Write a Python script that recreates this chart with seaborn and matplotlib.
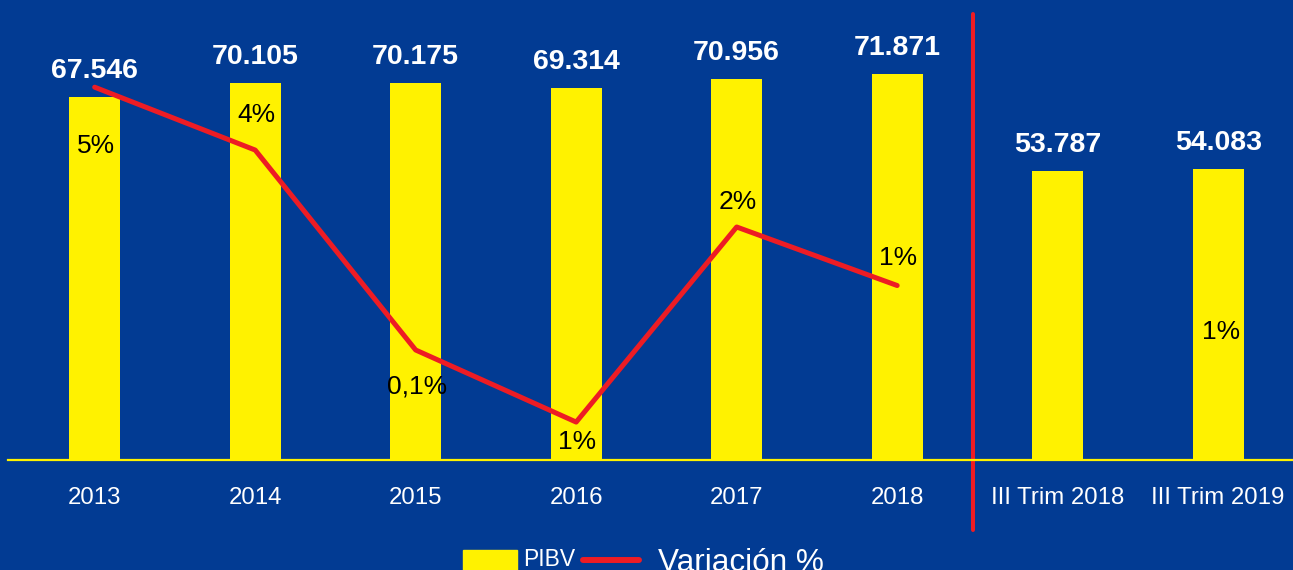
import numpy as np
import matplotlib
matplotlib.use("Agg")
import matplotlib.pyplot as plt
from matplotlib.patches import Rectangle
from matplotlib.lines import Line2D
import seaborn as sns


periodos = ["2013", "2014", "2015", "2016", "2017", "2018", "III Trim 2018", "III Trim 2019"]
pibv = [67546, 70105, 70175, 69314, 70956, 71871, 53787, 54083]
pibv_txt = ["67.546", "70.105", "70.175", "69.314", "70.956", "71.871", "53.787", "54.083"]

# variacion anual (%) - solo años completos
variacion = [4.95, 3.79, 0.10, -1.23, 2.37, 1.29]
variacion_txt = ["5%", "4%", "0,1%", "1%", "2%", "1%"]

# variacion trimestral III Trim 2019 vs III Trim 2018
var_trim = 0.55
var_trim_txt = "1%"

AZUL = "#023B93"
AMARILLO = "#FFF200"
ROJO = "#ED1C24"

sns.set_style("white")
plt.rcParams["font.family"] = ["Liberation Sans", "DejaVu Sans"]

W, H = 1293, 570
fig = plt.figure(figsize=(W / 100, H / 100), dpi=100, facecolor=AZUL)
ax = fig.add_axes([8 / W, 110 / H, 1284 / W, 440 / H])
ax.set_facecolor(AZUL)

sns.barplot(x=periodos, y=pibv, color=AMARILLO, saturation=1, width=0.317,
            edgecolor="none", linewidth=0, ax=ax)
ax.set_xlim(-0.54, 7.46)
ax.set_ylim(0, 81900)
ax.bar_label(ax.containers[0], labels=pibv_txt, padding=9.4, color="white",
             fontsize=20.5, fontweight="bold")

for s in ["top", "left", "right"]:
    ax.spines[s].set_visible(False)
ax.spines["bottom"].set_color(AMARILLO)
ax.spines["bottom"].set_linewidth(1.6)
ax.set_yticks([])
ax.set_xlabel("")
ax.set_ylabel("")
ax.tick_params(axis="x", length=0, pad=19.5, labelcolor="white", labelsize=17.3)

# linea de variacion en eje secundario
ax2 = ax.twinx()
x_var = np.arange(len(variacion))
sns.lineplot(x=x_var, y=variacion, color=ROJO, linewidth=3.6, ax=ax2)
ax2.set_ylim(-1.93, 6.19)
ax2.set_yticks([])
ax2.set_ylabel("")
for s in ax2.spines.values():
    s.set_visible(False)

desplaz = [-58.5, 35.5, -36.5, -19.5, 24.5, 27.5]
for i, (v, t) in enumerate(zip(variacion, variacion_txt)):
    ax2.annotate(t, (x_var[i], v), xytext=(1, desplaz[i]), textcoords="offset pixels",
                 ha="center", va="center", fontsize=19, color="black")
ax2.annotate(var_trim_txt, (len(periodos) - 1, var_trim), xytext=(3, -6), textcoords="offset pixels",
             ha="center", va="center", fontsize=19, color="black")

# separador entre años y trimestres
ax.axvline(5.47, ymin=-0.159, ymax=1.0136, color=ROJO, linewidth=2.9, clip_on=False)

# leyenda
fig.patches.append(Rectangle((463 / W, 0), 54 / W, 20 / H, transform=fig.transFigure,
                             color=AMARILLO, clip_on=False))
fig.text(523 / W, 3.5 / H, "PIBV", color="white", fontsize=16.5, va="baseline")
fig.add_artist(Line2D([583 / W, 639 / W], [10 / H, 10 / H], transform=fig.transFigure,
                      color=ROJO, linewidth=4.3))
fig.text(658 / W, -1 / H, "Variación %", color="white", fontsize=22.7, va="baseline")

fig.savefig("out.png", dpi=100, facecolor=AZUL)
